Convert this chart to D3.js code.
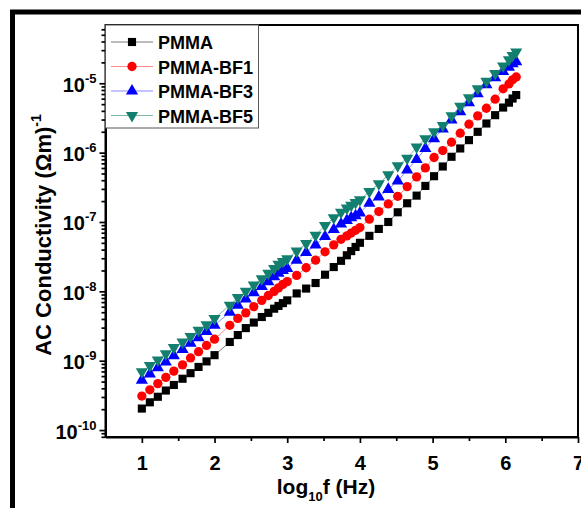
<!DOCTYPE html>
<html lang="en">
<head>
    <meta charset="UTF-8">
    <title>AC Conductivity</title>
    <style>
        body { margin: 0; background: #fff; }
        svg text { font-family: "Liberation Sans", Arial, sans-serif; font-weight: bold; fill: #000; }
        .axis path, .axis line { stroke: #000; }
        .axis path { stroke-width: 2px; }
        .axis line { stroke-width: 1.7px; }
    </style>
</head>
<body>
    <svg width="581" height="508"></svg>

    <script src="https://d3js.org/d3.v7.min.js"></script>
    <script>
        // log10 f (Hz) -- same frequency points for every sample
        const logF = [1.00, 1.11, 1.22, 1.33, 1.44, 1.56, 1.67, 1.78, 1.89, 2.00,
                      2.21, 2.32, 2.43, 2.54, 2.65, 2.74, 2.82, 2.88, 2.94, 3.00,
                      3.13, 3.26, 3.39, 3.52, 3.64, 3.74, 3.82, 3.88, 3.94, 4.00,
                      4.13, 4.26, 4.39, 4.52, 4.65, 4.78, 4.90, 5.02, 5.14, 5.26,
                      5.38, 5.50, 5.62, 5.74, 5.86, 5.97, 6.05, 6.10, 6.15];

        // log10 of AC conductivity (Ωm)^-1
        const pmma = [-9.69, -9.60, -9.52, -9.43, -9.35, -9.26, -9.18, -9.09, -9.01, -8.92,
                      -8.73, -8.63, -8.53, -8.45, -8.37, -8.31, -8.25, -8.21, -8.17, -8.13,
                      -8.03, -7.96, -7.88, -7.76, -7.65, -7.56, -7.48, -7.42, -7.36, -7.30,
                      -7.20, -7.10, -7.00, -6.86, -6.73, -6.62, -6.48, -6.34, -6.20, -6.06,
                      -5.94, -5.82, -5.70, -5.58, -5.46, -5.35, -5.28, -5.22, -5.17];
        const bf1 = [-9.51, -9.42, -9.33, -9.24, -9.15, -9.06, -8.96, -8.87, -8.78, -8.69,
                     -8.49, -8.39, -8.31, -8.22, -8.13, -8.06, -8.00, -7.95, -7.90, -7.86,
                     -7.77, -7.66, -7.55, -7.43, -7.33, -7.25, -7.20, -7.16, -7.12, -7.08,
                     -6.96, -6.85, -6.74, -6.63, -6.49, -6.35, -6.22, -6.07, -5.97, -5.85,
                     -5.72, -5.59, -5.47, -5.36, -5.23, -5.08, -5.01, -4.95, -4.91];
        const bf3 = [-9.28, -9.19, -9.10, -9.02, -8.93, -8.84, -8.75, -8.67, -8.58, -8.49,
                     -8.30, -8.20, -8.11, -8.02, -7.93, -7.86, -7.79, -7.74, -7.70, -7.67,
                     -7.55, -7.44, -7.33, -7.21, -7.11, -7.03, -6.98, -6.94, -6.91, -6.87,
                     -6.73, -6.64, -6.53, -6.41, -6.25, -6.10, -5.94, -5.80, -5.66, -5.53,
                     -5.41, -5.28, -5.15, -5.02, -4.92, -4.83, -4.77, -4.72, -4.69];
        const bf5 = [-9.16, -9.07, -8.99, -8.90, -8.81, -8.73, -8.65, -8.56, -8.48, -8.39,
                     -8.20, -8.09, -8.00, -7.91, -7.82, -7.74, -7.67, -7.61, -7.57, -7.53,
                     -7.42, -7.31, -7.19, -7.05, -6.94, -6.86, -6.80, -6.76, -6.72, -6.68,
                     -6.56, -6.45, -6.32, -6.19, -6.08, -5.92, -5.80, -5.70, -5.61, -5.47,
                     -5.33, -5.21, -5.08, -4.97, -4.86, -4.75, -4.66, -4.60, -4.55];

        const seriesNames = ["PMMA", "PMMA-BF1", "PMMA-BF3", "PMMA-BF5"];
        const xTicks = [1, 2, 3, 4, 5, 6, 7];
        const yTickExp = [-10, -9, -8, -7, -6, -5];

        const styles = [
            { symbol: d3.symbolSquare, size: 66, fill: "#000", line: "#7a7a7a" },
            { symbol: d3.symbolCircle, size: 68, fill: "#ff0000", line: "#ff8a8a" },
            { symbol: d3.symbolTriangle, size: 64, fill: "#0000ff", line: "#8a8aff" },
            { symbol: d3.symbolTriangle, size: 64, fill: "#13806f", line: "#7ab8ae", flip: true }
        ];

        const series = [pmma, bf1, bf3, bf5].map((vals, i) => ({
            name: seriesNames[i],
            style: styles[i],
            points: vals.map((v, j) => ({ x: logF[j], y: Math.pow(10, v) }))
        }));

        const svg = d3.select("svg");
        const plotLeft = 105.5, plotRight = 578, plotTop = 25, plotBottom = 437;

        const x = d3.scaleLinear().domain([0.5, 7]).range([plotLeft, plotRight]);
        const y = d3.scaleLog().domain([Math.pow(10, -10.1), Math.pow(10, -4.16)]).range([plotBottom, plotTop]);

        // outer frame (only top and left visible)
        svg.append("rect")
            .attr("x", 12.5).attr("y", 12)
            .attr("width", 700).attr("height", 700)
            .attr("fill", "none").attr("stroke", "#000").attr("stroke-width", 5);

        // plot box
        svg.append("rect")
            .attr("x", plotLeft).attr("y", plotTop)
            .attr("width", plotRight - plotLeft).attr("height", plotBottom - plotTop)
            .attr("fill", "none").attr("stroke", "#000").attr("stroke-width", 2);

        // x axis
        svg.append("g").attr("class", "axis")
            .attr("transform", `translate(0,${plotBottom})`)
            .call(d3.axisBottom(x).tickValues(xTicks.map(t => t - 0.5).filter(t => t > 0.5)).tickSize(4).tickFormat(""))
            .select(".domain").remove();
        const xAxis = svg.append("g").attr("class", "axis")
            .attr("transform", `translate(0,${plotBottom})`)
            .call(d3.axisBottom(x).tickValues(xTicks).tickSize(6).tickSizeOuter(0)
                .tickPadding(13).tickFormat(d3.format("d")));
        xAxis.selectAll("text").attr("font-size", 20).style("font-size", "20px");

        // y axis
        const minor = [];
        for (let e = -11; e <= -5; e++) {
            for (let k = 2; k <= 9; k++) {
                const v = k * Math.pow(10, e);
                if (v > y.domain()[0] && v < y.domain()[1]) minor.push(v);
            }
        }
        svg.append("g").attr("class", "axis")
            .attr("transform", `translate(${plotLeft},0)`)
            .call(d3.axisLeft(y).tickValues(minor).tickSize(4).tickFormat(""))
            .select(".domain").remove();
        const yAxis = svg.append("g").attr("class", "axis")
            .attr("transform", `translate(${plotLeft},0)`)
            .call(d3.axisLeft(y).tickValues(yTickExp.map(e => Math.pow(10, e))).tickSize(6).tickSizeOuter(0).tickFormat(""));
        yAxis.selectAll(".tick").each(function (d) {
            const t = d3.select(this).append("text")
                .attr("x", -9).attr("y", 8)
                .attr("text-anchor", "end")
                .style("font-size", "20px");
            t.append("tspan").text("10");
            t.append("tspan").style("font-size", "13px").attr("dy", -9)
                .text("-" + Math.abs(Math.round(Math.log10(d))));
        });

        // axis titles
        const xt = svg.append("text")
            .attr("x", 326).attr("y", 494)
            .attr("text-anchor", "middle").style("font-size", "21px");
        xt.append("tspan").text("log");
        xt.append("tspan").attr("dy", 7).style("font-size", "13px").text("10");
        xt.append("tspan").attr("dy", -7).text("f (Hz)");

        const yt = svg.append("text")
            .attr("transform", "translate(51,235) rotate(-90)")
            .attr("text-anchor", "middle").style("font-size", "22px");
        yt.append("tspan").text("AC Conductivity (Ωm)");
        yt.append("tspan").attr("dy", -10).style("font-size", "14px").text("-1");

        // data
        const line = d3.line().x(d => x(d.x)).y(d => y(d.y));
        const plot = svg.append("g");
        series.forEach(s => {
            plot.append("path")
                .datum(s.points)
                .attr("d", line)
                .attr("fill", "none")
                .attr("stroke", s.style.line)
                .attr("stroke-width", 1);
        });
        series.forEach(s => {
            plot.append("g").selectAll("path")
                .data(s.points)
                .enter().append("path")
                .attr("d", d3.symbol().type(s.style.symbol).size(s.style.size))
                .attr("transform", d => `translate(${x(d.x)},${y(d.y)})` + (s.style.flip ? " rotate(180)" : ""))
                .attr("fill", s.style.fill);
        });

        // legend
        const legend = svg.append("g");
        legend.append("rect")
            .attr("x", plotLeft).attr("y", plotTop)
            .attr("width", 153).attr("height", 103)
            .attr("fill", "#fff").attr("stroke", "#555").attr("stroke-width", 1);
        series.forEach((s, i) => {
            const ly = 42 + i * 24.5;
            legend.append("line")
                .attr("x1", 111).attr("x2", 153).attr("y1", ly).attr("y2", ly)
                .attr("stroke", s.style.line).attr("stroke-width", 1);
            legend.append("path")
                .attr("d", d3.symbol().type(s.style.symbol).size(s.style.size))
                .attr("transform", `translate(132,${ly})` + (s.style.flip ? " rotate(180)" : ""))
                .attr("fill", s.style.fill);
            legend.append("text")
                .attr("x", 158).attr("y", ly + 7)
                .style("font-size", "18px")
                .text(s.name);
        });
    </script>
</body>
</html>
